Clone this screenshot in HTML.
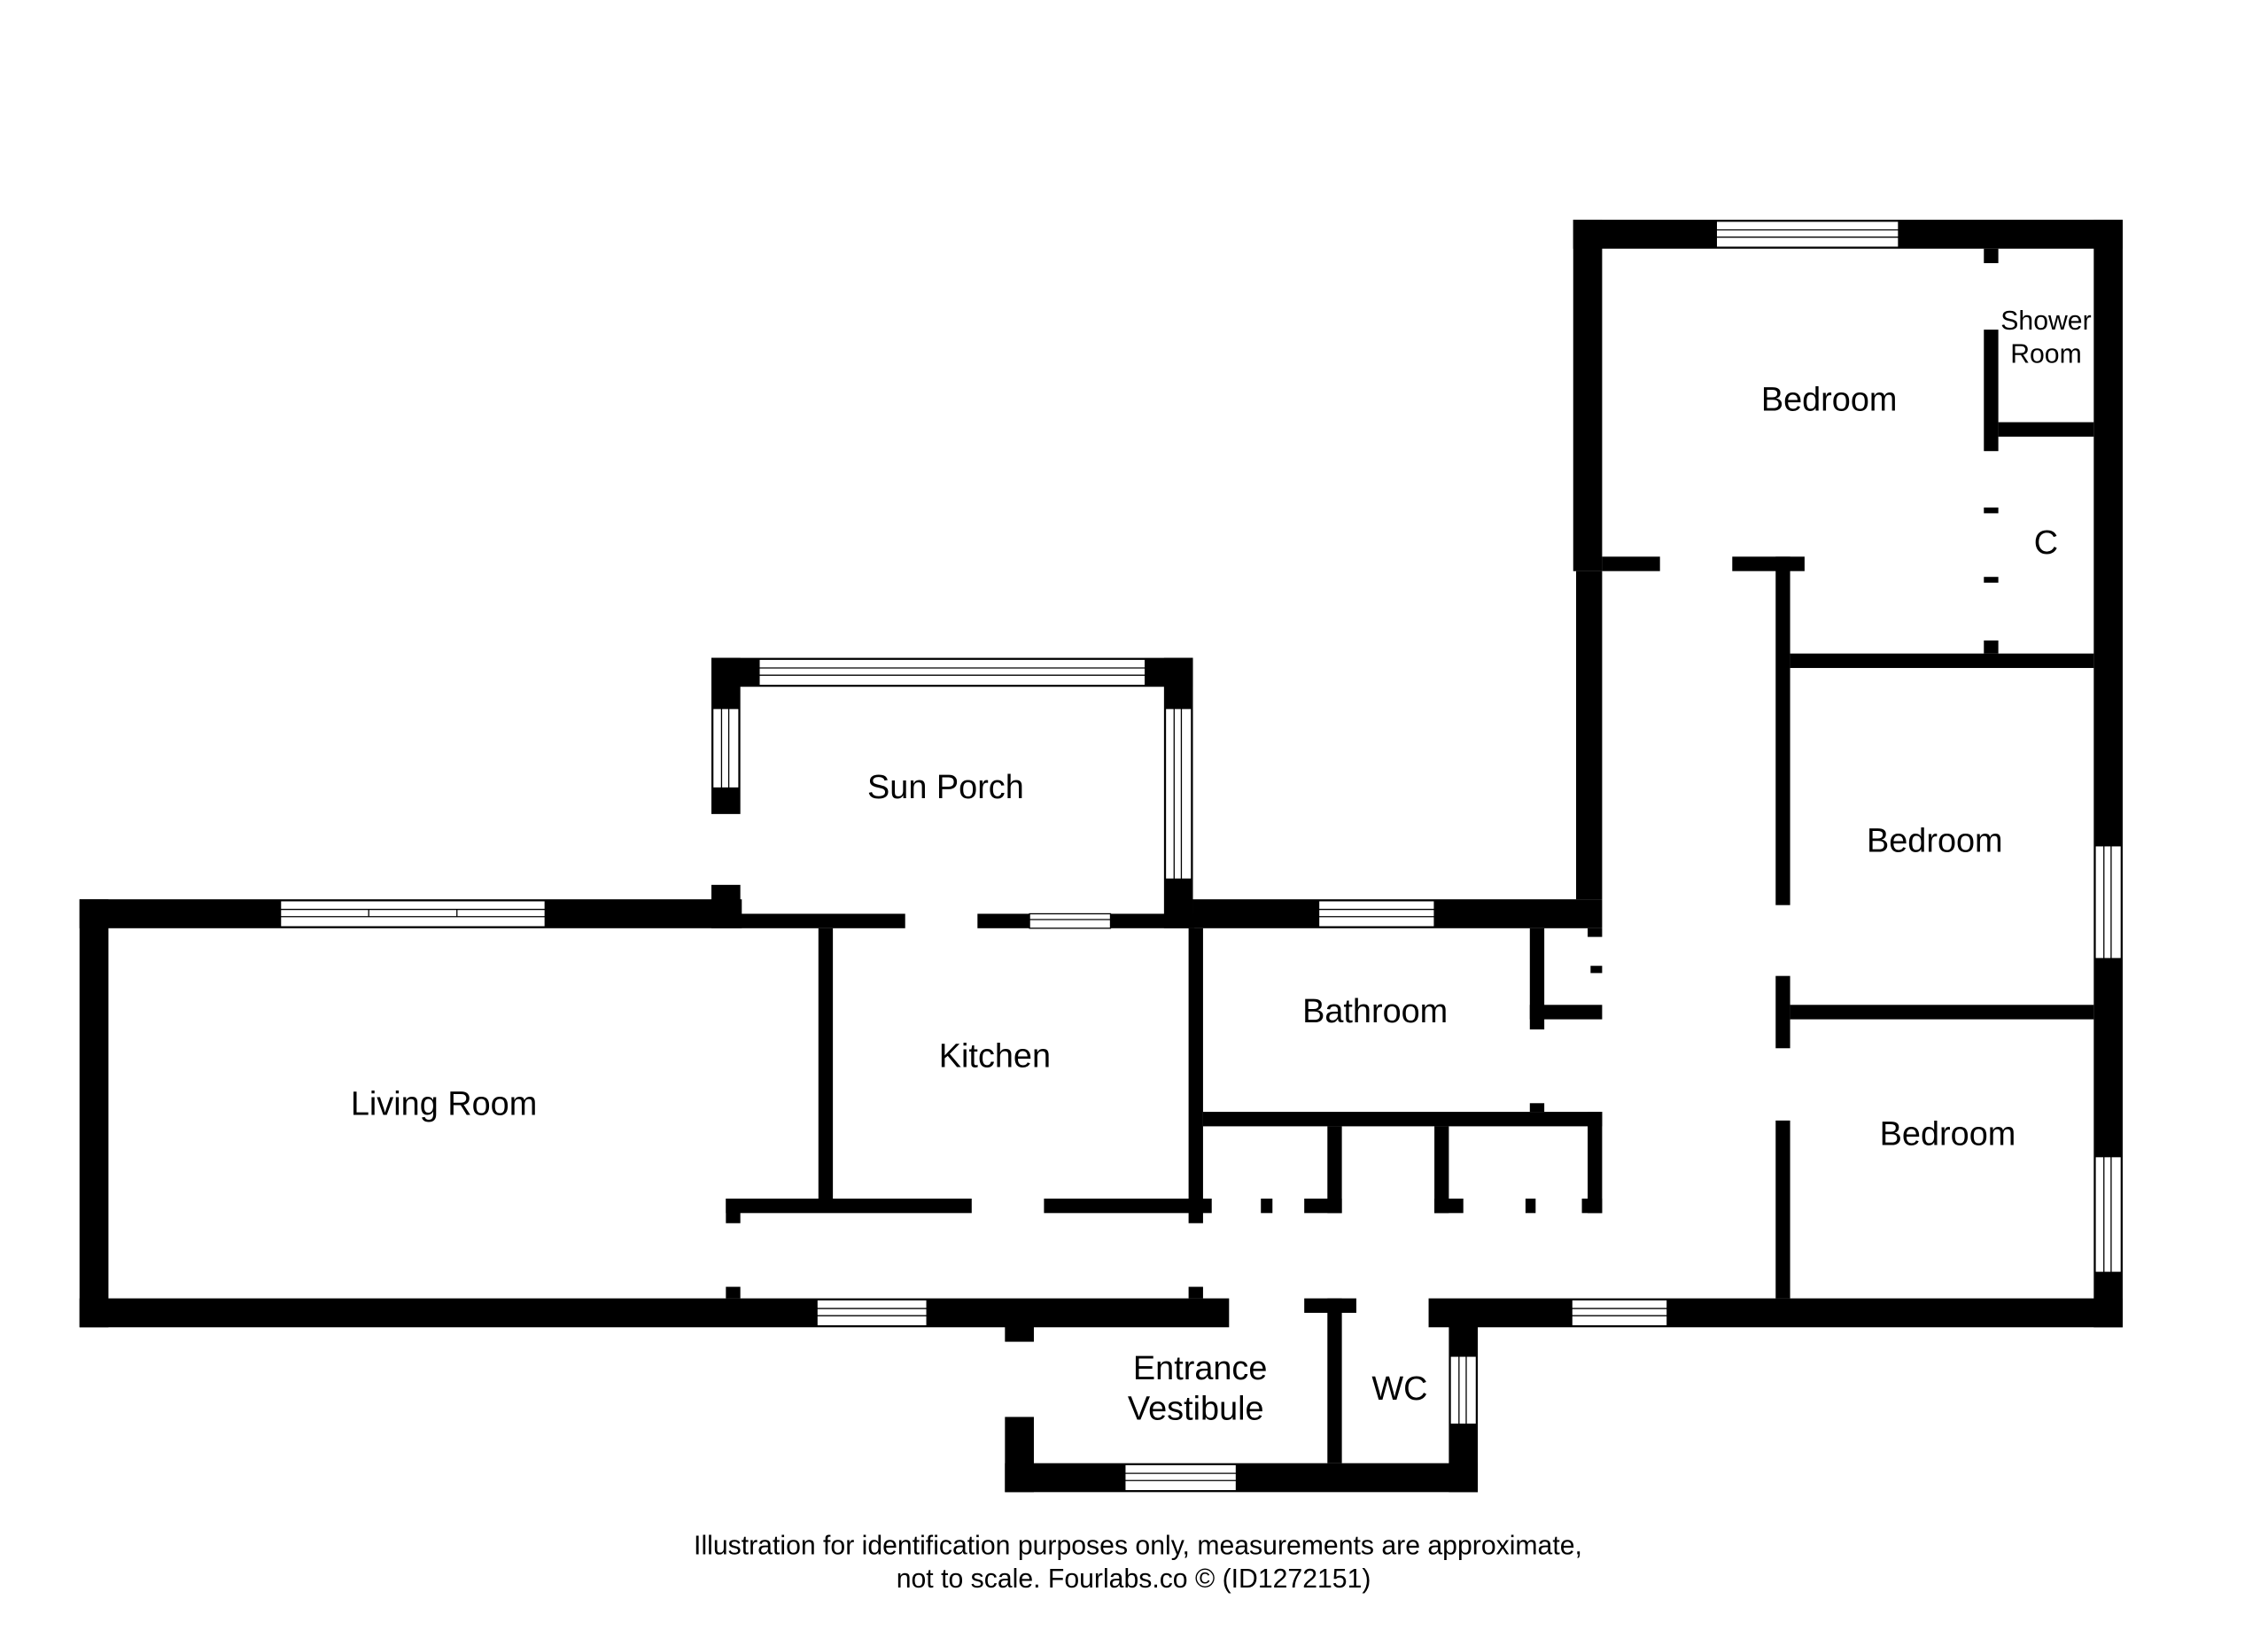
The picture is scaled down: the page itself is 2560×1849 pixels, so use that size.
<!DOCTYPE html>
<html><head><meta charset="utf-8"><style>
html,body{margin:0;padding:0;background:#fff;}
svg{display:block;}
text{font-family:"Liberation Sans",Arial,sans-serif;fill:#000;}
</style></head><body>
<svg width="2560" height="1849" viewBox="0 0 1568.5 1132.9" preserveAspectRatio="none" xmlns="http://www.w3.org/2000/svg">
<g fill="#000">
<rect x="55" y="622" width="20" height="296"/>
<rect x="55" y="622" width="458" height="20"/>
<rect x="55" y="898" width="795" height="20"/>
<rect x="492" y="455" width="333" height="20"/>
<rect x="492" y="455" width="20" height="108"/>
<rect x="492" y="612" width="20" height="30"/>
<rect x="805" y="455" width="20" height="187"/>
<rect x="512" y="632" width="114" height="10"/>
<rect x="676" y="632" width="150" height="10"/>
<rect x="825" y="622" width="283" height="20"/>
<rect x="1088" y="152" width="380" height="20"/>
<rect x="1448" y="152" width="20" height="766"/>
<rect x="1088" y="152" width="20" height="243"/>
<rect x="1090" y="395" width="18" height="227"/>
<rect x="988" y="898" width="480" height="20"/>
<rect x="695" y="908" width="20" height="20"/>
<rect x="695" y="980" width="20" height="52"/>
<rect x="695" y="1012" width="327" height="20"/>
<rect x="1002" y="908" width="20" height="124"/>
<rect x="902" y="898" width="36" height="10"/>
<rect x="918" y="898" width="10" height="114"/>
<rect x="566" y="642" width="10" height="190"/>
<rect x="502" y="829" width="170" height="10"/>
<rect x="502" y="829" width="10" height="17"/>
<rect x="722" y="829" width="116" height="10"/>
<rect x="822" y="642" width="10" height="204"/>
<rect x="502" y="890" width="10" height="8"/>
<rect x="822" y="890" width="10" height="8"/>
<rect x="832" y="769" width="276" height="10"/>
<rect x="918" y="779" width="10" height="60"/>
<rect x="902" y="829" width="26" height="10"/>
<rect x="992" y="779" width="10" height="60"/>
<rect x="992" y="829" width="20" height="10"/>
<rect x="872" y="829" width="8" height="10"/>
<rect x="1055" y="829" width="7" height="10"/>
<rect x="1098" y="769" width="10" height="70"/>
<rect x="1094" y="829" width="14" height="10"/>
<rect x="1058" y="642" width="10" height="70"/>
<rect x="1058" y="695" width="50" height="10"/>
<rect x="1098" y="642" width="10" height="6"/>
<rect x="1100" y="668" width="8" height="5"/>
<rect x="1058" y="763" width="10" height="6"/>
<rect x="1228" y="385" width="10" height="241"/>
<rect x="1228" y="675" width="10" height="50"/>
<rect x="1228" y="775" width="10" height="123"/>
<rect x="1198" y="385" width="50" height="10"/>
<rect x="1108" y="385" width="40" height="10"/>
<rect x="1238" y="452" width="210" height="10"/>
<rect x="1238" y="695" width="210" height="10"/>
<rect x="1372" y="172" width="10" height="10"/>
<rect x="1372" y="228" width="10" height="84"/>
<rect x="1382" y="292" width="66" height="10"/>
<rect x="1372" y="351" width="10" height="4"/>
<rect x="1372" y="399" width="10" height="4"/>
<rect x="1372" y="443" width="10" height="9"/>
</g>
<g fill="#fff" stroke="#000" stroke-width="0.8">
<rect x="194" y="623" width="183" height="18"/><line x1="194" y1="629" x2="377" y2="629"/><line x1="194" y1="634" x2="377" y2="634"/><line x1="255" y1="629" x2="255" y2="634"/><line x1="316" y1="629" x2="316" y2="634"/>
<rect x="565" y="899" width="76" height="18"/><line x1="565" y1="905" x2="641" y2="905"/><line x1="565" y1="910" x2="641" y2="910"/>
<rect x="525" y="456" width="267" height="18"/><line x1="525" y1="462" x2="792" y2="462"/><line x1="525" y1="467" x2="792" y2="467"/>
<rect x="493" y="490" width="18" height="55"/><line x1="499" y1="490" x2="499" y2="545"/><line x1="504" y1="490" x2="504" y2="545"/>
<rect x="806" y="490" width="18" height="118"/><line x1="812" y1="490" x2="812" y2="608"/><line x1="817" y1="490" x2="817" y2="608"/>
<rect x="712" y="632" width="56" height="10"/><line x1="712" y1="636" x2="768" y2="636"/>
<rect x="912" y="623" width="80" height="18"/><line x1="912" y1="629" x2="992" y2="629"/><line x1="912" y1="634" x2="992" y2="634"/>
<rect x="1187" y="153" width="126" height="18"/><line x1="1187" y1="159" x2="1313" y2="159"/><line x1="1187" y1="164" x2="1313" y2="164"/>
<rect x="1449" y="585" width="18" height="78"/><line x1="1455" y1="585" x2="1455" y2="663"/><line x1="1460" y1="585" x2="1460" y2="663"/>
<rect x="1449" y="800" width="18" height="80"/><line x1="1455" y1="800" x2="1455" y2="880"/><line x1="1460" y1="800" x2="1460" y2="880"/>
<rect x="1087" y="899" width="66" height="18"/><line x1="1087" y1="905" x2="1153" y2="905"/><line x1="1087" y1="910" x2="1153" y2="910"/>
<rect x="778" y="1013" width="77" height="18"/><line x1="778" y1="1019" x2="855" y2="1019"/><line x1="778" y1="1024" x2="855" y2="1024"/>
<rect x="1003" y="938" width="18" height="47"/><line x1="1009" y1="938" x2="1009" y2="985"/><line x1="1014" y1="938" x2="1014" y2="985"/>
</g>
<g font-size="23.2" text-anchor="middle">
<text x="1265" y="284">Bedroom</text>
<text x="1338" y="589">Bedroom</text>
<text x="1347" y="792">Bedroom</text>
<text x="654" y="552">Sun Porch</text>
<text x="688" y="738">Kitchen</text>
<text x="951" y="707">Bathroom</text>
<text x="307" y="771">Living Room</text>
<text x="830" y="954">Entrance</text>
<text x="827" y="982">Vestibule</text>
<text x="968" y="968">WC</text>
<text x="1415" y="383">C</text>
<text x="1415" y="228" font-size="18.5">Shower</text>
<text x="1415" y="251" font-size="18.5">Room</text>
<text x="787" y="1075" font-size="18.5">Illustration for identification purposes only, measurements are approximate,</text>
<text x="784" y="1098" font-size="18.5">not to scale. Fourlabs.co © (ID1272151)</text>
</g>
</svg>
</body></html>
